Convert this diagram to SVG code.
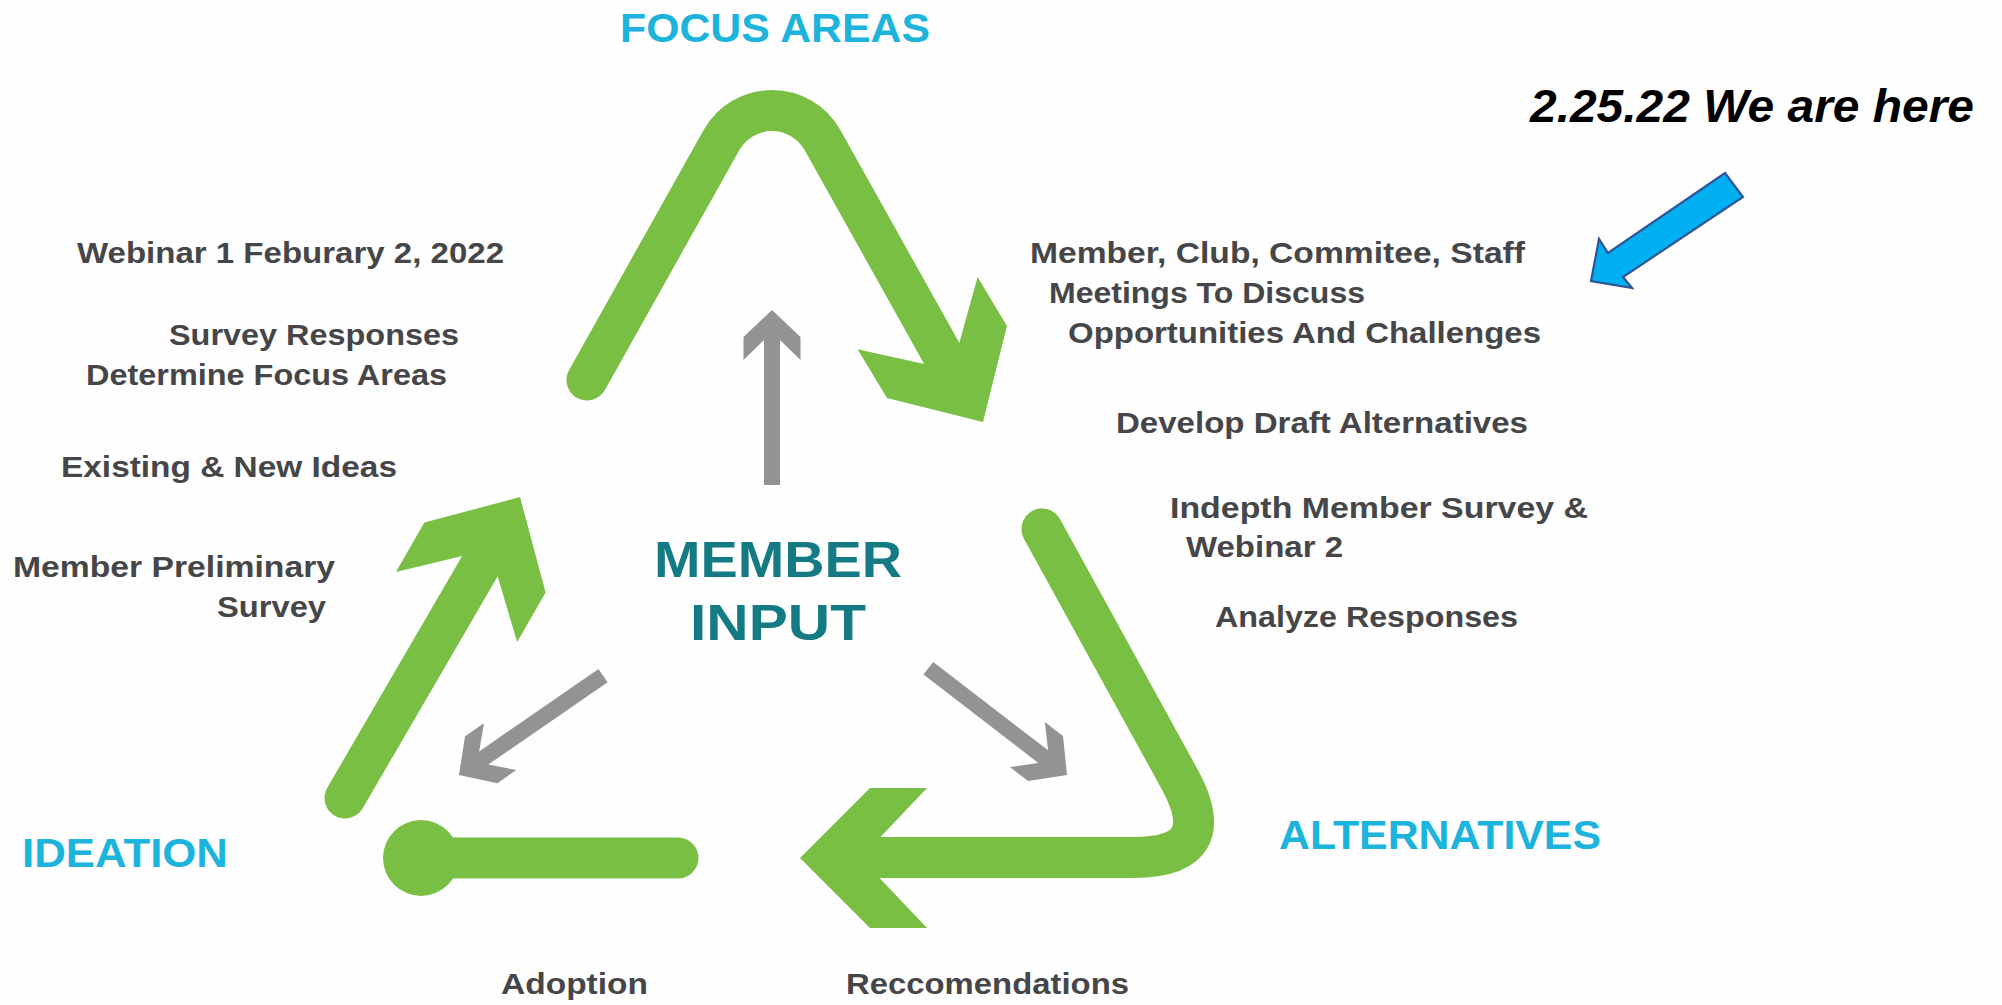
<svg xmlns="http://www.w3.org/2000/svg" xmlns:xlink="http://www.w3.org/1999/xlink" width="2002" height="1005" viewBox="0 0 2002 1005">
<style>
.note{font-family:"Liberation Sans",Arial,sans-serif;font-weight:bold;font-size:30px;fill:#464648}
.phase{font-family:"Liberation Sans",Arial,sans-serif;font-weight:bold;font-size:41px;fill:#1cb3dc}
.center{font-family:"Liberation Sans",Arial,sans-serif;font-weight:bold;font-size:50px;fill:#147b84}
.here{font-family:"Liberation Sans",Arial,sans-serif;font-weight:bold;font-style:italic;font-size:46px;fill:#000}
.gshaft{fill:none;stroke:#78bf43;stroke-width:41;stroke-linecap:round;stroke-linejoin:round}
.ghead{fill:#78bf43}
.gray{fill:#949292}
</style>
<defs>
<path id="chev" d="M0 0 L-70 -70 L-127 -70 L-80 -20.5 L-80 20.5 L-127 70 L-70 70 Z"/>
<path id="garrow" d="M0 0 L-27 28.5 L-50 28.5 L-30 8 L-175 8 L-175 -8 L-30 -8 L-50 -28.5 L-27 -28.5 Z"/>
</defs>
<rect width="2002" height="1005" fill="#fefefe"/>

<g id="connectors">
  <g id="arrow-focus">
    <path class="gshaft" d="M587 380 L721.4 140.2 A58 58 0 0 1 822.6 140.2 L941.5 353"/>
    <use xlink:href="#chev" href="#chev" class="ghead" transform="translate(983 422) rotate(59)"/>
  </g>
  <g id="arrow-alternatives">
    <path class="gshaft" d="M1042 529 L1179.4 778.8 Q1223 857.5 1133 857.5 L880 857.5"/>
    <use xlink:href="#chev" href="#chev" class="ghead" transform="translate(800 858) rotate(180)"/>
  </g>
  <g id="arrow-ideation">
    <path class="gshaft" d="M345 798 L480 566"/>
    <use xlink:href="#chev" href="#chev" class="ghead" transform="translate(520 497) rotate(-60)"/>
  </g>
  <g id="adoption-bar">
    <path class="gshaft" d="M421 858 L678 858"/>
    <circle cx="421" cy="858" r="38" class="ghead"/>
  </g>
  <g id="gray-arrows">
    <use xlink:href="#garrow" href="#garrow" class="gray" transform="translate(772 310) rotate(-90)"/>
    <use xlink:href="#garrow" href="#garrow" class="gray" transform="translate(459 775) rotate(145.4)"/>
    <use xlink:href="#garrow" href="#garrow" class="gray" transform="translate(1067 775) rotate(37.6)"/>
  </g>
  <g id="here-arrow">
    <polygon points="1725,173 1743,197 1623,277 1632,288 1591,281 1599,239 1608,253" fill="#00b0f0" stroke="#2f5597" stroke-width="2.2" stroke-linejoin="miter"/>
  </g>
</g>

<g id="focus-areas"><text class="phase" x="620" y="42" textLength="310" lengthAdjust="spacingAndGlyphs">FOCUS AREAS</text></g>
<g id="ideation"><text class="phase" x="22" y="867" textLength="206" lengthAdjust="spacingAndGlyphs">IDEATION</text></g>
<g id="alternatives"><text class="phase" x="1279" y="849" textLength="322" lengthAdjust="spacingAndGlyphs">ALTERNATIVES</text></g>
<g id="member-input">
  <text class="center" x="654" y="577" textLength="248" lengthAdjust="spacingAndGlyphs">MEMBER</text>
  <text class="center" x="690" y="640" textLength="176" lengthAdjust="spacingAndGlyphs">INPUT</text>
</g>
<g id="we-are-here"><text class="here" x="1530" y="122" textLength="444" lengthAdjust="spacingAndGlyphs">2.25.22 We are here</text></g>

<g id="ideation-notes">
  <text class="note" x="77" y="263" textLength="427" lengthAdjust="spacingAndGlyphs">Webinar 1 Feburary 2, 2022</text>
  <text class="note" x="169" y="345" textLength="290" lengthAdjust="spacingAndGlyphs">Survey Responses</text>
  <text class="note" x="86" y="385" textLength="361" lengthAdjust="spacingAndGlyphs">Determine Focus Areas</text>
  <text class="note" x="61" y="477" textLength="336" lengthAdjust="spacingAndGlyphs">Existing &amp; New Ideas</text>
  <text class="note" x="13" y="577" textLength="322" lengthAdjust="spacingAndGlyphs">Member Preliminary</text>
  <text class="note" x="217" y="617" textLength="109" lengthAdjust="spacingAndGlyphs">Survey</text>
</g>
<g id="focus-notes">
  <text class="note" x="1030" y="263" textLength="495" lengthAdjust="spacingAndGlyphs">Member, Club, Commitee, Staff</text>
  <text class="note" x="1049" y="303" textLength="316" lengthAdjust="spacingAndGlyphs">Meetings To Discuss</text>
  <text class="note" x="1068" y="343" textLength="473" lengthAdjust="spacingAndGlyphs">Opportunities And Challenges</text>
</g>
<g id="alternatives-notes">
  <text class="note" x="1116" y="433" textLength="412" lengthAdjust="spacingAndGlyphs">Develop Draft Alternatives</text>
  <text class="note" x="1170" y="518" textLength="418" lengthAdjust="spacingAndGlyphs">Indepth Member Survey &amp;</text>
  <text class="note" x="1186" y="557" textLength="157" lengthAdjust="spacingAndGlyphs">Webinar 2</text>
  <text class="note" x="1215" y="627" textLength="303" lengthAdjust="spacingAndGlyphs">Analyze Responses</text>
</g>
<g id="bottom-notes">
  <text class="note" x="501" y="994" textLength="147" lengthAdjust="spacingAndGlyphs">Adoption</text>
  <text class="note" x="846" y="994" textLength="283" lengthAdjust="spacingAndGlyphs">Reccomendations</text>
</g>
</svg>
